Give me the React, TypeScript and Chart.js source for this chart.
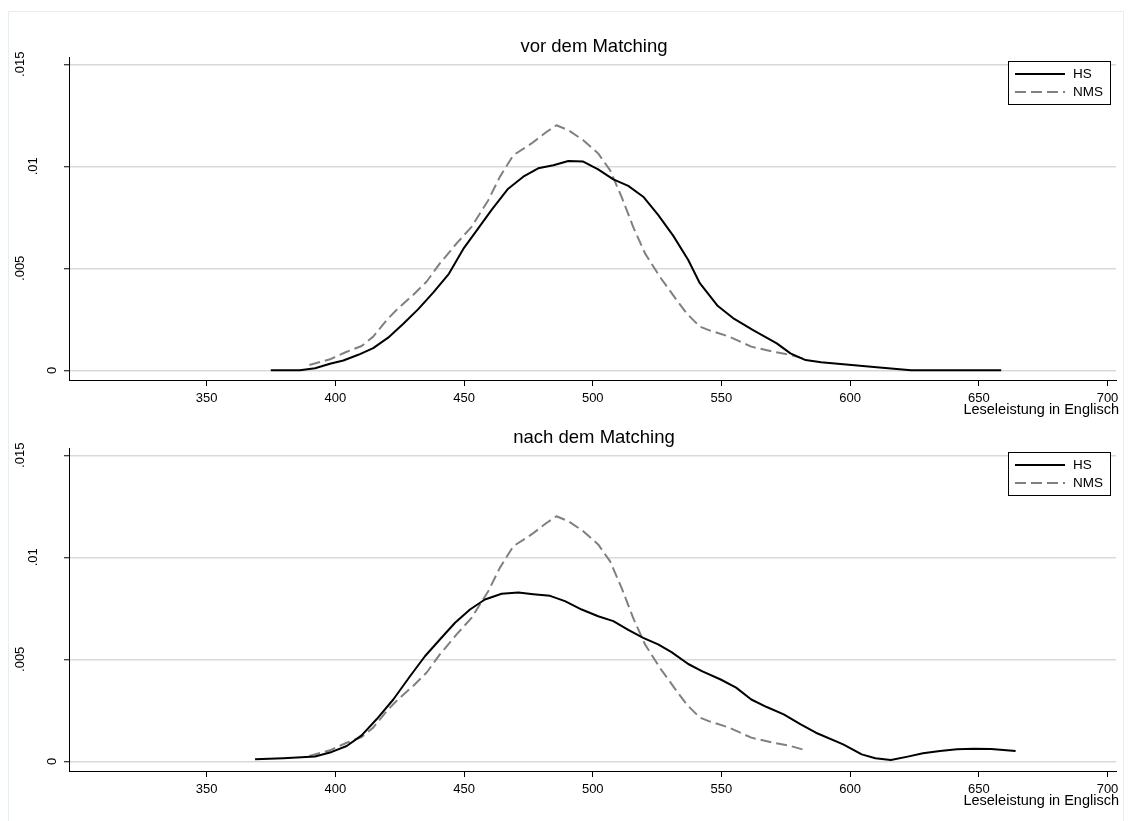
import React, { useEffect, useRef } from "react";
import { Chart, registerables } from "chart.js";

Chart.register(...registerables);

const FONT = "'Liberation Sans', Arial, Helvetica, sans-serif";

const panelTitles = ["vor dem Matching", "nach dem Matching"];
const seriesNames = ["HS", "NMS"];
const xAxisTitle = "Leseleistung in Englisch";
const xTicks = [350, 400, 450, 500, 550, 600, 650, 700];
const yTicks = [0, 0.005, 0.01, 0.015];
const yTickLabels = ["0", ".005", ".01", ".015"];

// HS, before matching
const hsVorX = [374.9, 386.2, 392.1, 397.9, 403.1, 408.9, 414.7, 420.5, 426.4, 432.2, 438.0, 444.1, 449.7, 455.5, 460.7, 466.9, 473.0, 478.8, 484.7, 490.5, 496.3, 502.1, 508.0, 513.8, 519.6, 525.4, 531.3, 537.1, 541.6, 548.6, 554.5, 562.3, 571.5, 576.8, 582.7, 588.7, 600.6, 612.5, 623.7, 658.7];
const hsVorY = [0, 0, 0.0001, 0.00032, 0.00048, 0.00076, 0.00109, 0.0016, 0.00228, 0.003, 0.00381, 0.00473, 0.00595, 0.00696, 0.00786, 0.00887, 0.00949, 0.0099, 0.01005, 0.01026, 0.01023, 0.00985, 0.00936, 0.00904, 0.00851, 0.00762, 0.00659, 0.00541, 0.00427, 0.00315, 0.00256, 0.00197, 0.00132, 0.00083, 0.0005, 0.00039, 0.00026, 0.00013, 0, 0];

// NMS (same in both panels)
const nmsX = [389.9, 397.9, 404.4, 410.2, 414.7, 419.9, 424.4, 430.2, 435.4, 440.6, 447.1, 452.9, 459.4, 463.9, 469.1, 476.2, 482.0, 485.9, 490.5, 496.3, 502.1, 506.7, 511.2, 515.7, 520.3, 526.1, 532.6, 536.5, 541.6, 545.1, 553.0, 561.6, 570.2, 576.8, 582.7];
const nmsY = [0.00026, 0.00054, 0.00091, 0.00119, 0.00165, 0.00246, 0.00304, 0.00369, 0.00434, 0.00524, 0.00622, 0.00703, 0.00834, 0.00948, 0.01054, 0.01112, 0.01168, 0.01201, 0.01177, 0.01128, 0.01063, 0.00981, 0.0085, 0.00703, 0.00573, 0.00458, 0.00344, 0.00279, 0.00214, 0.00197, 0.00165, 0.00116, 0.00091, 0.00075, 0.00054];

// HS, after matching
const hsNachX = [368.8, 379.8, 392.1, 398.6, 404.4, 410.2, 416.0, 422.5, 429.0, 434.8, 440.6, 446.5, 452.3, 458.1, 464.6, 471.1, 476.9, 483.4, 489.2, 495.7, 502.1, 508.0, 513.8, 519.6, 525.4, 530.6, 537.1, 542.4, 549.7, 555.7, 561.6, 567.6, 574.2, 580.8, 586.7, 597.3, 604.5, 609.8, 615.8, 622.4, 628.3, 634.9, 641.5, 648.1, 654.8, 664.3];
const hsNachY = [0.0001, 0.00015, 0.00024, 0.00046, 0.00075, 0.00127, 0.00206, 0.00303, 0.00417, 0.00515, 0.00597, 0.00679, 0.00744, 0.00793, 0.00821, 0.00827, 0.00819, 0.00811, 0.00785, 0.00744, 0.00711, 0.00687, 0.00644, 0.00605, 0.00573, 0.00535, 0.00477, 0.00442, 0.00401, 0.00361, 0.00303, 0.00266, 0.0023, 0.00181, 0.0014, 0.00083, 0.00034, 0.00015, 0.00006, 0.00023, 0.00039, 0.0005, 0.00059, 0.00062, 0.0006, 0.0005];

const X_MIN = 296.5;
const X_MAX = 703.3;
const Y_MIN = -0.000475;
const Y_MAX = 0.015357;

const CANVAS_W = 1133;
const CANVAS_H = 430;

function toPoints(xs: number[], ys: number[]) {
  return xs.map((x, i) => ({ x, y: ys[i] }));
}

function makeDecor(title: string) {
  return {
    id: "decor",
    afterDraw(chart: any) {
      const ctx: CanvasRenderingContext2D = chart.ctx;
      const area = chart.chartArea;
      const yScale = chart.scales.y;
      ctx.save();
      ctx.fillStyle = "#000";
      // panel title
      ctx.font = `18.5px ${FONT}`;
      ctx.textAlign = "center";
      ctx.textBaseline = "middle";
      ctx.fillText(title, 594, 47);
      // x axis title
      ctx.font = `14.5px ${FONT}`;
      ctx.textAlign = "right";
      ctx.fillText(xAxisTitle, area.right + 3, area.bottom + 30);
      // rotated y tick labels
      ctx.font = `13px ${FONT}`;
      yTicks.forEach((v, i) => {
        const label = yTickLabels[i];
        const py = yScale.getPixelForValue(v);
        const w = ctx.measureText(label).width;
        const cx = 65 - 1.77 * w;
        ctx.save();
        ctx.translate(cx, py);
        ctx.rotate(-Math.PI / 2);
        ctx.textAlign = "center";
        ctx.textBaseline = "middle";
        ctx.fillText(label, 0, 0);
        ctx.restore();
      });
      // legend
      const bx = 1008.5, by = 61.5, bw = 102, bh = 43;
      ctx.fillStyle = "#fff";
      ctx.fillRect(bx, by, bw, bh);
      ctx.strokeStyle = "#000";
      ctx.lineWidth = 1;
      ctx.strokeRect(bx, by, bw, bh);
      const ds = chart.data.datasets;
      const rows = [74, 92];
      rows.forEach((ry, i) => {
        ctx.save();
        ctx.strokeStyle = ds[i].borderColor;
        ctx.lineWidth = ds[i].borderWidth;
        ctx.setLineDash(ds[i].borderDash || []);
        ctx.beginPath();
        ctx.moveTo(1015, ry);
        ctx.lineTo(1065, ry);
        ctx.stroke();
        ctx.restore();
        ctx.fillStyle = "#000";
        ctx.font = `13.5px ${FONT}`;
        ctx.textAlign = "left";
        ctx.textBaseline = "middle";
        ctx.fillText(seriesNames[i], 1073, ry);
      });
      ctx.restore();
    },
  };
}

function Panel({ title, hsX, hsY, top }: { title: string; hsX: number[]; hsY: number[]; top: number }) {
  const ref = useRef<HTMLCanvasElement | null>(null);
  useEffect(() => {
    if (!ref.current) return;
    const chart = new Chart(ref.current, {
      type: "line",
      data: {
        datasets: [
          {
            label: seriesNames[0],
            data: toPoints(hsX, hsY),
            borderColor: "#000000",
            borderWidth: 2,
            pointRadius: 0,
            tension: 0,
            fill: false,
            borderJoinStyle: "round",
          },
          {
            label: seriesNames[1],
            data: toPoints(nmsX, nmsY),
            borderColor: "#808080",
            borderWidth: 2,
            borderDash: [11, 5],
            pointRadius: 0,
            tension: 0,
            fill: false,
            borderJoinStyle: "round",
          },
        ],
      },
      options: {
        animation: false,
        responsive: false,
        devicePixelRatio: 1,
        layout: { padding: { left: 0, right: 17, top: 57, bottom: 0 } },
        plugins: {
          legend: { display: false },
          title: { display: false },
          tooltip: { enabled: false },
        },
        scales: {
          x: {
            type: "linear",
            min: X_MIN,
            max: X_MAX,
            afterBuildTicks: (s: any) => {
              s.ticks = xTicks.map((v) => ({ value: v }));
            },
            afterFit: (s: any) => {
              s.height = 50;
            },
            grid: {
              drawOnChartArea: false,
              drawTicks: true,
              tickLength: 6,
              tickColor: "#000",
              tickWidth: 1,
            },
            border: { display: true, color: "#000", width: 1 },
            ticks: {
              font: { family: FONT, size: 13 },
              color: "#000",
              padding: 5,
              maxRotation: 0,
              autoSkip: false,
              callback: (v: any) => String(v),
            },
          },
          y: {
            type: "linear",
            min: Y_MIN,
            max: Y_MAX,
            afterBuildTicks: (s: any) => {
              s.ticks = yTicks.map((v) => ({ value: v }));
            },
            afterFit: (s: any) => {
              s.width = 69;
            },
            grid: {
              color: "#d9d9d9",
              lineWidth: 1.5,
              drawTicks: true,
              tickLength: 5,
              tickColor: "#000",
              tickWidth: 1,
            },
            border: { display: true, color: "#000", width: 1 },
            ticks: { display: false },
          },
        },
      } as any,
      plugins: [makeDecor(title)],
    });
    return () => chart.destroy();
  }, [title, hsX, hsY]);
  return (
    <canvas
      ref={ref}
      width={CANVAS_W}
      height={CANVAS_H}
      style={{ position: "absolute", left: 0, top, width: CANVAS_W, height: CANVAS_H }}
    />
  );
}

export default function App() {
  return (
    <div
      style={{
        position: "fixed",
        left: 0,
        top: 0,
        width: 1133,
        height: 821,
        background: "#fff",
        overflow: "hidden",
      }}
    >
      <div
        style={{
          position: "absolute",
          left: 8,
          top: 11,
          width: 1116,
          height: 830,
          border: "1px solid #e6eef0",
          boxSizing: "border-box",
        }}
      />
      <Panel title={panelTitles[0]} hsX={hsVorX} hsY={hsVorY} top={0} />
      <Panel title={panelTitles[1]} hsX={hsNachX} hsY={hsNachY} top={391} />
    </div>
  );
}
